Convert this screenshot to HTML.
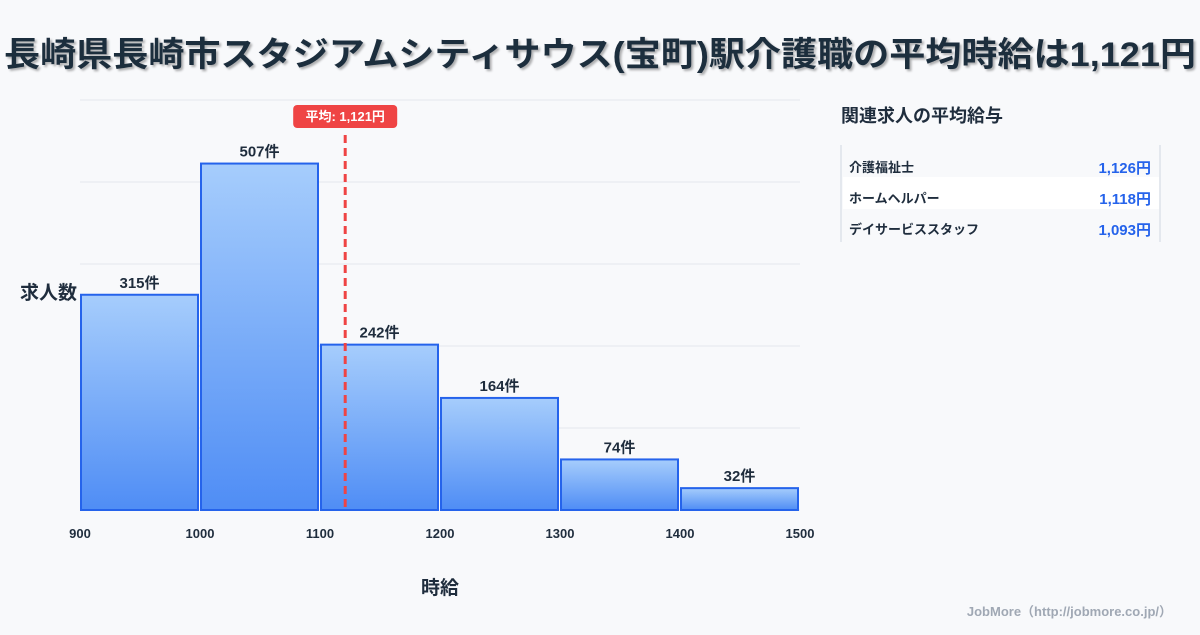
<!DOCTYPE html>
<html><head><meta charset="utf-8">
<style>
body{margin:0;width:1200px;height:630px;background:#f8f9fb;overflow:hidden;font-family:"Liberation Sans","Noto Sans CJK JP",sans-serif;}
svg text{font-family:"Liberation Sans","Noto Sans CJK JP",sans-serif;}
</style></head>
<body>
<svg width="1200" height="630">
<defs>
<linearGradient id="g" x1="0" y1="0" x2="0" y2="1"><stop offset="0" stop-color="#a6cdfc"/><stop offset="1" stop-color="#4f8df5"/></linearGradient>
<filter id="sh"><feDropShadow dx="2" dy="2" stdDeviation="1" flood-color="#000" flood-opacity="0.3"/></filter>
</defs>
<text x="4" y="66" font-size="34" font-weight="bold" fill="#1f2d3d" textLength="1192" lengthAdjust="spacingAndGlyphs" filter="url(#sh)">長崎県長崎市スタジアムシティサウス(宝町)駅介護職の平均時給は1,121円</text>
<g id="grid"></g>
<g id="bars"></g>
<g id="xt"></g>
<text x="20" y="299" font-size="19" font-weight="bold" fill="#1f2d3d">求人数</text>
<text x="440" y="594" font-size="19" font-weight="bold" fill="#1f2d3d" text-anchor="middle">時給</text>
<g id="avg"></g>
<text x="841" y="122" font-size="18" font-weight="bold" fill="#1f2d3d">関連求人の平均給与</text>
<line x1="841" y1="145" x2="841" y2="242" stroke="#cfd6e0"/>
<line x1="1160" y1="145" x2="1160" y2="242" stroke="#cfd6e0"/>
<rect x="843" y="177" width="316" height="32" fill="#ffffff"/>
<g><text x="849" y="172" font-size="13" font-weight="bold" fill="#1f2d3d">介護福祉士</text><text x="1151" y="173" font-size="15" font-weight="bold" fill="#2563eb" text-anchor="end">1,126円</text></g>
<g><text x="849" y="203" font-size="13" font-weight="bold" fill="#1f2d3d">ホームヘルパー</text><text x="1151" y="204" font-size="15" font-weight="bold" fill="#2563eb" text-anchor="end">1,118円</text></g>
<g><text x="849" y="234" font-size="13" font-weight="bold" fill="#1f2d3d">デイサービススタッフ</text><text x="1151" y="235" font-size="15" font-weight="bold" fill="#2563eb" text-anchor="end">1,093円</text></g>
<text x="1172" y="616" font-size="13" font-weight="bold" fill="#a0a8b4" text-anchor="end">JobMore（http://jobmore.co.jp/）</text>
</svg>
<script>
const binStarts=[900,1000,1100,1200,1300,1400];
const counts=[315,507,242,164,74,32];
const xTicks=[900,1000,1100,1200,1300,1400,1500];
const yGrid=[0,120,240,360,480,600];
const avgWage=1121;
const NS='http://www.w3.org/2000/svg';
const X=v=>80+(v-900)*720/600;
const Y=v=>510-v*410/600;
function mk(t,a,p,txt){const e=document.createElementNS(NS,t);for(const k in a)e.setAttribute(k,a[k]);if(txt!==undefined)e.textContent=txt;p.appendChild(e);return e;}
const grid=document.getElementById('grid'),bars=document.getElementById('bars'),xt=document.getElementById('xt'),avg=document.getElementById('avg');
yGrid.forEach(v=>{const l=mk('line',{x1:80,x2:800,y1:Y(v),y2:Y(v),stroke:'#e3e7ee'},grid);

});
binStarts.forEach((s,i)=>{const x0=X(s)+1,x1=X(s+100)-2;
const r=mk('rect',{x:x0,y:Y(counts[i]),width:x1-x0,height:510-Y(counts[i]),fill:'url(#g)',stroke:'#2563eb','stroke-width':2},bars);


const t=mk('text',{x:(x0+x1)/2,y:Y(counts[i])-7,'font-size':15,'font-weight':'bold',fill:'#1f2d3d','text-anchor':'middle'},bars,counts[i]+'件');

});
xTicks.forEach(v=>{const t=mk('text',{x:X(v),y:538,'font-size':13,'font-weight':'bold',fill:'#1f2d3d','text-anchor':'middle'},xt,v);

});
const ax=X(avgWage);
const al=mk('line',{x1:ax,x2:ax,y1:135,y2:510,stroke:'#ef4444','stroke-width':3,'stroke-dasharray':'8,5'},avg);


const ab=mk('rect',{x:ax-52,y:105,width:104,height:23,rx:4,fill:'#ef4444'},avg);


const at=mk('text',{x:ax,y:121,'font-size':13,'font-weight':'bold',fill:'#fff','text-anchor':'middle'},avg,'平均: '+avgWage.toLocaleString('en-US')+'円');


</script>
</body></html>
